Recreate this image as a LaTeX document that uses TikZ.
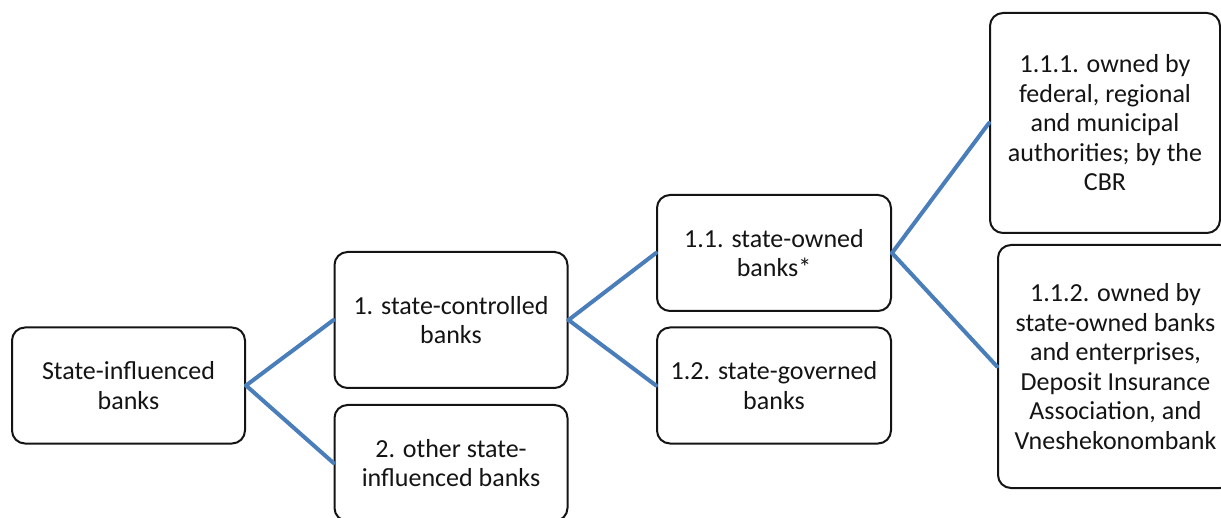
\documentclass[tikz,border=0pt]{standalone}
\usepackage{fontspec}
\setmainfont{Carlito}
\usepackage{tikz}
\definecolor{linkblue}{RGB}{74, 126, 187}
\definecolor{ink}{RGB}{20, 20, 20}
\def\boxw{233}
\def\boxh{116}

\begin{document}
\begin{tikzpicture}[x=1pt, y=-1pt, line cap=round,
    box/.style={draw=ink, line width=2pt, rounded corners=13pt, fill=white,
        align=center, inner sep=0pt, text=ink,
        font=\fontsize{26}{29.5}\selectfont},
    link/.style={draw=linkblue, line width=4pt}]

                 \useasboundingbox (0, 0) rectangle (1221, 518);
                 \clip (0, 0) rectangle (1221, 518);

                 \node[box, minimum width=\boxw, minimum height=\boxh] (infl) at (128.5, 385.5)
                 {State-influenced\\banks};
                 \node[box, minimum width=\boxw, minimum height=136] (ctrl) at (451, 320)
                 {1. state-controlled\\banks};
                 \node[box, minimum width=\boxw, minimum height=\boxh] (other) at (451, 463)
                 {2. other state-\\influenced banks};
                 \node[box, minimum width=234, minimum height=\boxh] (owned) at (774, 253)
                 {1.1. state-owned\\banks*};
                 \node[box, minimum width=234, minimum height=\boxh] (gov) at (774, 385.5)
                 {1.2. state-governed\\banks};
                 \node[box, minimum width=230, minimum height=220] (auth) at (1105, 123)
                 {1.1.1. owned by\\federal, regional\\and municipal\\authorities; by the\\CBR};
                 \node[box, minimum width=235, minimum height=243] (ent) at (1115.5, 366.5)
                 {1.1.2. owned by\\state-owned banks\\and enterprises,\\Deposit Insurance\\Association, and\\Vneshekonombank};

                 \draw[link] (infl.east) -- (ctrl.west);
                 \draw[link] (infl.east) -- (other.west);
                 \draw[link] (ctrl.east) -- (owned.west);
                 \draw[link] (ctrl.east) -- (gov.west);
                 \draw[link] (owned.east) -- (auth.west);
                 \draw[link] (owned.east) -- (ent.west);

             \end{tikzpicture}
\end{document}
